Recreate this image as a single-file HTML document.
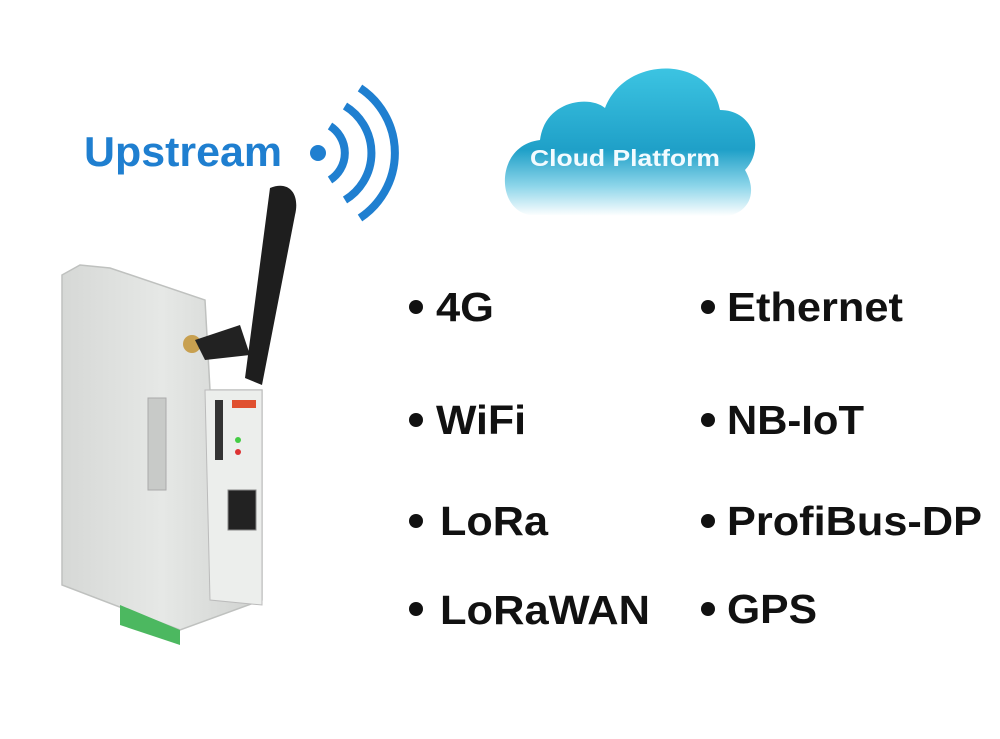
<!DOCTYPE html>
<html><head><style>
html,body{margin:0;padding:0;background:#fff;}
svg{display:block;}
.t{font-family:"Liberation Sans",Arial,sans-serif;font-weight:bold;fill:#111;font-size:41px;}
</style></head><body>
<svg width="1000" height="739" viewBox="0 0 1000 739" xmlns="http://www.w3.org/2000/svg">
<defs>
<linearGradient id="cg" x1="0" y1="0" x2="0" y2="1">
<stop offset="0" stop-color="#3cc4e2"/><stop offset="0.55" stop-color="#1fa0c8"/><stop offset="0.8" stop-color="#8fd6ea"/><stop offset="1" stop-color="#ffffff"/>
</linearGradient>
<linearGradient id="dg" x1="0" y1="0" x2="1" y2="0">
<stop offset="0" stop-color="#d6d8d6"/><stop offset="0.5" stop-color="#e6e8e6"/><stop offset="1" stop-color="#cfd1cf"/>
</linearGradient>
</defs>
<!-- Upstream -->
<text x="84" y="166" font-family="Liberation Sans,Arial,sans-serif" font-weight="bold" font-size="42" fill="#1f7fd0" textLength="198" lengthAdjust="spacingAndGlyphs">Upstream</text>
<circle cx="318" cy="153" r="8" fill="#1f7fd0"/>
<g fill="none" stroke="#1f7fd0" stroke-width="8">
<path d="M330 126 A32 32 0 0 1 330 180"/>
<path d="M345 106 A55 55 0 0 1 345 200"/>
<path d="M360 88 A78 78 0 0 1 360 218"/>
</g>
<!-- cloud -->
<path d="M530 215 C495 210 495 145 540 140 C545 100 590 95 605 108 C625 55 710 55 720 110 C755 110 765 150 745 170 C762 200 740 218 720 216 Z" fill="url(#cg)"/>
<text x="530" y="166" font-family="Liberation Sans,Arial,sans-serif" font-weight="bold" font-size="23" fill="#f2fbff" textLength="190" lengthAdjust="spacingAndGlyphs">Cloud  Platform</text>
<!-- device -->
<path d="M62 275 L80 265 L110 268 L205 300 L210 390 L262 390 L262 600 L180 630 L62 585 Z" fill="url(#dg)" stroke="#bfc1bf" stroke-width="1.5"/>
<path d="M205 390 L262 390 L262 605 L210 600 Z" fill="#eceeec" stroke="#bbb"/>
<rect x="148" y="398" width="18" height="92" fill="#c8cac8" stroke="#aaa"/>
<rect x="215" y="400" width="8" height="60" fill="#333"/>
<rect x="232" y="400" width="24" height="8" fill="#e05030"/>
<circle cx="238" cy="440" r="3" fill="#4c4"/><circle cx="238" cy="452" r="3" fill="#d33"/>
<rect x="228" y="490" width="28" height="40" fill="#222" stroke="#888"/>
<path d="M120 605 L180 630 L180 645 L120 625 Z" fill="#4cb860"/>
<!-- antenna -->
<circle cx="192" cy="344" r="9" fill="#c8a050"/>
<path d="M195 340 L240 325 L250 355 L205 360 Z" fill="#222"/>
<path d="M270 188 C290 180 300 195 295 215 L262 385 L245 378 Z" fill="#1e1e1e"/>
<!-- list -->
<g fill="#111">
<circle cx="416" cy="307" r="7"/><circle cx="708" cy="307" r="7"/>
<circle cx="416" cy="420" r="7"/><circle cx="708" cy="420" r="7"/>
<circle cx="416" cy="521" r="7"/><circle cx="708" cy="521" r="7"/>
<circle cx="416" cy="609" r="7"/><circle cx="708" cy="609" r="7"/>
</g>
<text class="t" x="436" y="321" textLength="58" lengthAdjust="spacingAndGlyphs">4G</text>
<text class="t" x="727" y="321" textLength="176" lengthAdjust="spacingAndGlyphs">Ethernet</text>
<text class="t" x="436" y="434" textLength="90" lengthAdjust="spacingAndGlyphs">WiFi</text>
<text class="t" x="727" y="434" textLength="137" lengthAdjust="spacingAndGlyphs">NB-IoT</text>
<text class="t" x="440" y="535" textLength="108" lengthAdjust="spacingAndGlyphs">LoRa</text>
<text class="t" x="727" y="535" textLength="255" lengthAdjust="spacingAndGlyphs">ProfiBus-DP</text>
<text class="t" x="440" y="624" textLength="210" lengthAdjust="spacingAndGlyphs">LoRaWAN</text>
<text class="t" x="727" y="623" textLength="90" lengthAdjust="spacingAndGlyphs">GPS</text>
</svg>
</body></html>
